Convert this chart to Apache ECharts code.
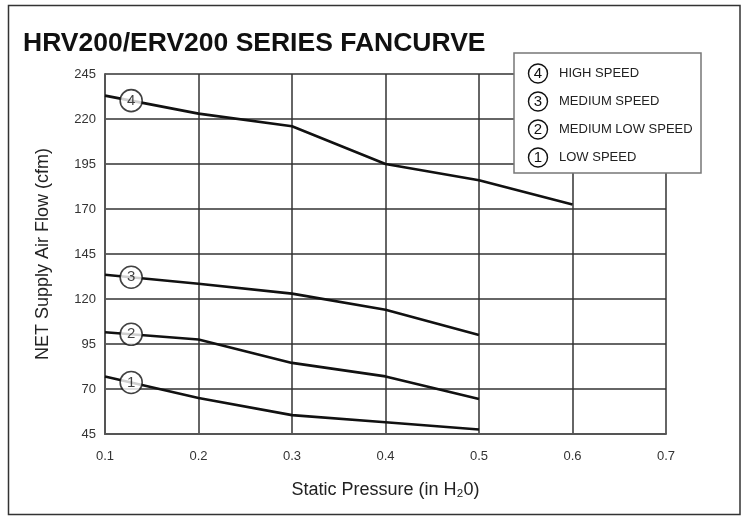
<!DOCTYPE html>
<html>
<head>
<meta charset="utf-8">
<script src="https://cdn.jsdelivr.net/npm/echarts@6/dist/echarts.min.js"></script>
<style>
html,body{margin:0;padding:0;background:#fff;}
#chart{width:745px;height:517px;}
</style>
</head>
<body>
<div id="chart"></div>
<script>
// ---- data ----
const pressure = [0.1, 0.2, 0.3, 0.4, 0.5, 0.6];
const highSpeed = [233, 223, 216, 195, 186, 172.5];
const mediumSpeed = [133.5, 128.5, 123, 114, 100];
const mediumLowSpeed = [101.5, 97.5, 84.5, 77, 64.5];
const lowSpeed = [77, 65, 55.5, 51.5, 47.5];
const seriesNames = ['4', '3', '2', '1'];
const legendLabels = ['HIGH SPEED', 'MEDIUM SPEED', 'MEDIUM LOW SPEED', 'LOW SPEED'];
const yTicks = [45, 70, 95, 120, 145, 170, 195, 220, 245];
const xTicks = [0.1, 0.2, 0.3, 0.4, 0.5, 0.6, 0.7];
const markerX = 0.128;

const BASE = yTicks[0];
const allSeries = [highSpeed, mediumSpeed, mediumLowSpeed, lowSpeed];

function toPairs(vals) {
  return vals.map((v, i) => [pressure[i], v - BASE]);
}
function valueAt(vals, x) {
  for (let i = 0; i < vals.length - 1; i++) {
    if (x >= pressure[i] && x <= pressure[i + 1]) {
      const t = (x - pressure[i]) / (pressure[i + 1] - pressure[i]);
      return vals[i] + t * (vals[i + 1] - vals[i]);
    }
  }
  return vals[0];
}

const chart = echarts.init(document.getElementById('chart'));
const FONT = '"Liberation Sans", Arial, sans-serif';

const series = [];
allSeries.forEach((vals, k) => {
  series.push({
    type: 'line',
    data: toPairs(vals),
    symbol: 'none',
    lineStyle: { color: '#111', width: 2.6 },
    z: 3,
    silent: true
  });
});
series.push({
  type: 'scatter',
  data: allSeries.map((vals, k) => ({
    value: [markerX, valueAt(vals, markerX) - BASE],
    name: seriesNames[k]
  })),
  symbol: 'circle',
  symbolSize: 22,
  itemStyle: { color: '#fff', borderColor: '#111', borderWidth: 1.6 },
  label: {
    show: true, position: 'inside',
    formatter: p => p.name,
    color: '#111', fontSize: 15, fontFamily: FONT
  },
  z: 5,
  silent: true
});

// legend box via graphic
const legendTop = 53, legendLeft = 514, rowStep = 28;
const legendChildren = [{
  type: 'rect',
  shape: { x: legendLeft, y: legendTop, width: 187, height: 120 },
  style: { fill: '#fff', stroke: '#777', lineWidth: 1.5 },
  z: 10
}];
legendLabels.forEach((lbl, i) => {
  const cy = legendTop + 20.5 + i * rowStep;
  legendChildren.push({
    type: 'circle',
    shape: { cx: legendLeft + 24, cy: cy, r: 9.5 },
    style: { fill: '#fff', stroke: '#111', lineWidth: 1.4 },
    z: 11
  });
  legendChildren.push({
    type: 'text',
    x: legendLeft + 24, y: cy,
    style: { text: seriesNames[i], font: '15px ' + FONT, fill: '#111', align: 'center', verticalAlign: 'middle' },
    z: 12
  });
  legendChildren.push({
    type: 'text',
    x: legendLeft + 45, y: cy,
    style: { text: lbl, font: '13px ' + FONT, fill: '#222', align: 'left', verticalAlign: 'middle' },
    z: 12
  });
});

chart.setOption({
  animation: false,
  backgroundColor: '#fff',
  title: {
    text: 'HRV200/ERV200 SERIES FANCURVE',
    left: 18, top: 25,
    textStyle: { fontFamily: FONT, fontSize: 26.5, fontWeight: 'bold', color: '#111' }
  },
  grid: { left: 105, right: 79, top: 74, bottom: 83 },
  xAxis: {
    type: 'value',
    min: xTicks[0], max: xTicks[xTicks.length - 1], interval: 0.1,
    name: 'Static Pressure (in H\u20820)',
    nameLocation: 'middle', nameGap: 47,
    nameTextStyle: { fontFamily: FONT, fontSize: 18, color: '#222' },
    axisLine: { show: true, lineStyle: { color: '#555', width: 2 } },
    axisTick: { show: false },
    splitLine: { show: true, lineStyle: { color: '#333', width: 1.5 } },
    axisLabel: {
      margin: 16, fontFamily: FONT, fontSize: 13, color: '#333',
      formatter: v => (Math.round(v * 10) / 10).toFixed(1)
    }
  },
  yAxis: {
    type: 'value',
    min: 0, max: yTicks[yTicks.length - 1] - BASE, interval: 25,
    name: 'NET Supply Air Flow (cfm)',
    nameLocation: 'middle', nameGap: 53, nameRotate: 90,
    nameTextStyle: { fontFamily: FONT, fontSize: 18, color: '#222' },
    axisLine: { show: true, lineStyle: { color: '#555', width: 2 } },
    axisTick: { show: false },
    splitLine: { show: true, lineStyle: { color: '#333', width: 1.5 } },
    axisLabel: {
      margin: 9, fontFamily: FONT, fontSize: 13, color: '#333',
      formatter: v => String(Math.round(v + BASE))
    }
  },
  graphic: [
    {
      type: 'rect',
      shape: { x: 8.5, y: 5.5, width: 731.5, height: 509 },
      style: { fill: 'none', stroke: '#333', lineWidth: 1.5 },
      z: 1, silent: true
    },
    { type: 'group', children: legendChildren, silent: true }
  ],
  series: series
});
</script>
</body>
</html>
